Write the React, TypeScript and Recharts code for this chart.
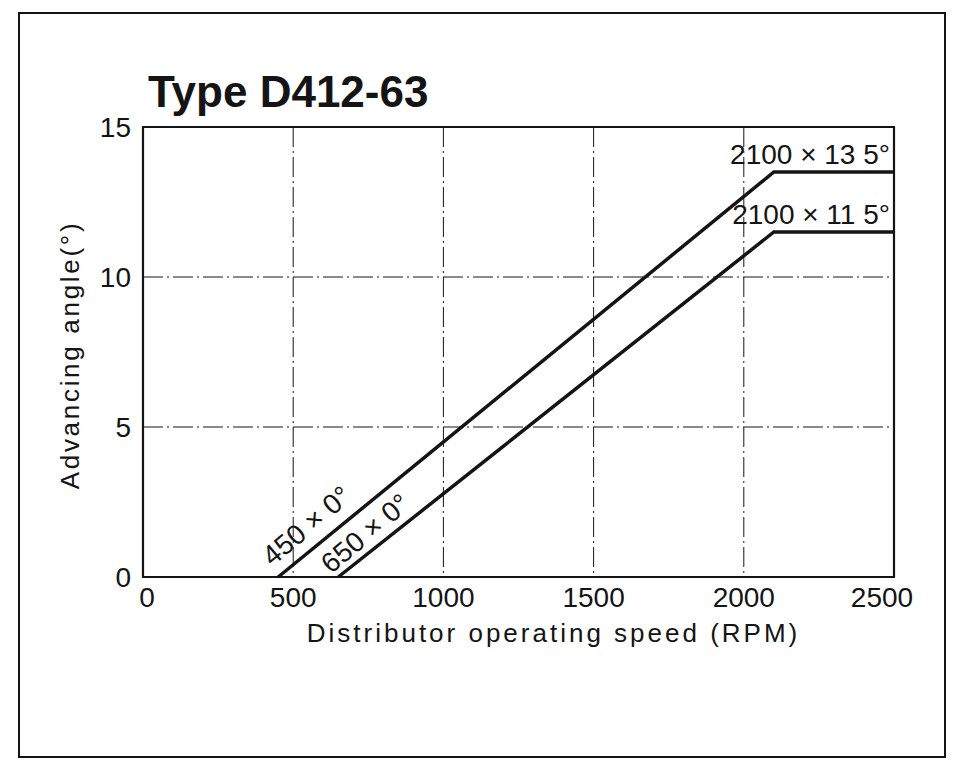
import React from 'react';
import {
  LineChart,
  Line,
  XAxis,
  YAxis,
  CartesianGrid,
  ReferenceArea,
} from 'recharts';

// advance curves
const RPM_A = [450, 2100, 2500];
const ANGLE_A = [0, 13.5, 13.5];
const RPM_B = [650, 2100, 2500];
const ANGLE_B = [0, 11.5, 11.5];

const X_TICKS = [0, 500, 1000, 1500, 2000, 2500];
const Y_TICKS = [0, 5, 10, 15];

const START_LABELS = ['450 × 0°', '650 × 0°'];
const END_LABELS = ['2100 × 13 5°', '2100 × 11 5°'];

const TITLE = 'Type D412-63';
const X_LABEL = 'Distributor operating speed (RPM)';
const Y_LABEL = 'Advancing angle(°)';

const FONT = '"Liberation Sans", Arial, Helvetica, sans-serif';
const INK = '#141414';

const seriesA = RPM_A.map((rpm, i) => ({ rpm, angle: ANGLE_A[i] }));
const seriesB = RPM_B.map((rpm, i) => ({ rpm, angle: ANGLE_B[i] }));

function pointOf(props: any) {
  const vb = props.viewBox || {};
  const x = props.x ?? vb.x + (vb.width || 0) / 2;
  const y = props.y ?? vb.y + (vb.height || 0) / 2;
  return { x, y };
}

// start label sits along the slope, end label sits above the flat part
function makeCurveLabel(series: number, startOffset: [number, number]) {
  return function CurveLabel(props: any) {
    const { x, y } = pointOf(props);
    if (x == null || y == null || isNaN(x) || isNaN(y)) return null;
    if (props.index === 0) {
      return (
        <text
          transform={`translate(${x},${y}) rotate(-40)`}
          x={startOffset[0]}
          y={startOffset[1]}
          fontSize={28}
          fontFamily={FONT}
          fill={INK}
        >
          {START_LABELS[series]}
        </text>
      );
    }
    if (props.index === 2) {
      return (
        <text
          x={x - 4}
          y={y - 8}
          textAnchor="end"
          fontSize={28}
          fontFamily={FONT}
          fill={INK}
        >
          {END_LABELS[series]}
        </text>
      );
    }
    return null;
  };
}

const LabelA = makeCurveLabel(0, [2, -11.5]);
const LabelB = makeCurveLabel(1, [-4, -6.5]);

// first and last tick labels sit a little inward on the scan
function XTick(props: any) {
  const { x, y, payload } = props;
  const v = payload.value;
  const dx = v === X_TICKS[0] ? 4 : v === X_TICKS[X_TICKS.length - 1] ? -12 : 0;
  return (
    <text
      x={x + dx}
      y={y}
      dy="0.71em"
      textAnchor="middle"
      fontSize={28}
      fontFamily={FONT}
      fill={INK}
    >
      {v}
    </text>
  );
}

function XTitle(props: any) {
  const vb = props.viewBox;
  return (
    <text
      x={vb.x + vb.width / 2 + 35}
      y={vb.y + 65}
      textAnchor="middle"
      fontSize={26}
      fontFamily={FONT}
      fill={INK}
      letterSpacing={3}
    >
      {X_LABEL}
    </text>
  );
}

function YTitle(props: any) {
  const vb = props.viewBox;
  const cx = vb.x - 4;
  const cy = 355;
  return (
    <text
      transform={`translate(${cx},${cy}) rotate(-90)`}
      textAnchor="middle"
      fontSize={26}
      fontFamily={FONT}
      fill={INK}
      letterSpacing={2.7}
    >
      {Y_LABEL}
    </text>
  );
}

const tickStyle = { fontSize: 28, fontFamily: FONT, fill: INK };

export default function App() {
  return (
    <div
      style={{
        position: 'absolute',
        left: 0,
        top: 0,
        width: 960,
        height: 768,
        background: '#fff',
        overflow: 'hidden',
      }}
    >
      {/* scanned page frame */}
      <div
        style={{
          position: 'absolute',
          left: 18,
          top: 12,
          width: 924,
          height: 742,
          border: `2.5px solid ${INK}`,
        }}
      />
      <div
        style={{
          position: 'absolute',
          left: 148,
          top: 70,
          fontSize: 44,
          lineHeight: '44px',
          fontWeight: 'bold',
          fontFamily: FONT,
          color: INK,
          whiteSpace: 'nowrap',
        }}
      >
        {TITLE}
      </div>
      <div style={{ position: 'absolute', left: 0, top: 0 }}>
        <LineChart
          width={960}
          height={768}
          margin={{ top: 127, right: 66, bottom: 151, left: 83 }}
        >
          <CartesianGrid
            stroke={INK}
            strokeWidth={1}
            strokeDasharray="20 4 2 4"
          />
          <XAxis
            type="number"
            dataKey="rpm"
            domain={[0, 2500]}
            ticks={X_TICKS}
            allowDuplicatedCategory={false}
            axisLine={false}
            tickLine={false}
            tickSize={0}
            tickMargin={10}
            tick={<XTick />}
            height={40}
            label={<XTitle />}
          />
          <YAxis
            type="number"
            domain={[0, 15]}
            ticks={Y_TICKS}
            axisLine={false}
            tickLine={false}
            tickSize={0}
            tickMargin={12}
            tick={tickStyle}
            width={60}
            label={<YTitle />}
          />
          <ReferenceArea
            x1={0}
            x2={2500}
            y1={0}
            y2={15}
            fill="none"
            fillOpacity={0}
            stroke={INK}
            strokeWidth={2.2}
          />
          <Line
            data={seriesA}
            dataKey="angle"
            stroke={INK}
            strokeWidth={3.5}
            dot={false}
            activeDot={false}
            isAnimationActive={false}
            label={LabelA}
          />
          <Line
            data={seriesB}
            dataKey="angle"
            stroke={INK}
            strokeWidth={3.5}
            dot={false}
            activeDot={false}
            isAnimationActive={false}
            label={LabelB}
          />
        </LineChart>
      </div>
    </div>
  );
}
